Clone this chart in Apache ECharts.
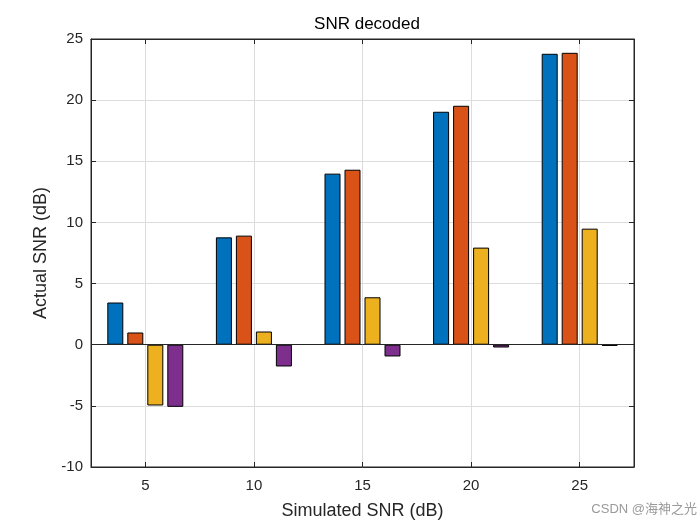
<!DOCTYPE html>
<html>
<head>
<meta charset="utf-8">
<script src="https://cdn.jsdelivr.net/npm/echarts@6/dist/echarts.min.js"></script>
<style>
html,body{margin:0;padding:0;background:#fff;}
#c{width:700px;height:525px;}
</style>
</head>
<body>
<div id="c"></div>
<script>
var categories = ['5', '10', '15', '20', '25'];
var series1 = [3.45, 8.78, 13.99, 19.05, 23.79];
var series2 = [1.0, 8.92, 14.31, 19.54, 23.87];
var series3 = [-4.97, 1.08, 3.88, 7.94, 9.49];
var series4 = [-5.08, -1.78, -0.96, -0.23, -0.10];
var yTicks = { min: -10, max: 25, interval: 5 };
var colors = ['#0072BD', '#D95319', '#EDB120', '#7E2F8E'];

var font = 'Liberation Sans, Arial, Helvetica, sans-serif';
var chart = echarts.init(document.getElementById('c'));
function barSeries(data, color) {
  return {
    type: 'bar',
    data: data,
    barWidth: 16,
    barGap: '25%',
    itemStyle: { color: color, borderColor: '#000', borderWidth: 1 },
    emphasis: { disabled: true },
    animation: false
  };
}
chart.setOption({
  animation: false,
  title: {
    text: 'SNR decoded',
    left: 362, top: 11, textAlign: 'center',
    textStyle: { fontFamily: font, fontSize: 17, fontWeight: 'normal', color: '#000' }
  },
  grid: { left: 91, right: 66, top: 39, bottom: 58, containLabel: false,
          show: true, borderColor: '#262626', borderWidth: 1 },
  xAxis: [{
    type: 'category',
    data: categories,
    name: 'Simulated SNR (dB)',
    nameLocation: 'middle',
    nameGap: 35,
    nameTextStyle: { fontFamily: font, fontSize: 18, color: '#262626' },
    axisLine: { show: true, onZero: false, lineStyle: { color: '#262626', width: 1 } },
    axisTick: { show: true, inside: true, alignWithLabel: true, length: 5, lineStyle: { color: '#262626' } },
    axisLabel: { fontFamily: font, fontSize: 15, color: '#262626', margin: 11 },
    splitLine: { show: true, alignWithLabel: true, lineStyle: { color: '#dcdcdc', width: 1 } }
  }, {
    type: 'category',
    data: categories,
    position: 'top',
    axisLine: { show: true, onZero: false, lineStyle: { color: '#262626', width: 1 } },
    axisTick: { show: true, inside: true, alignWithLabel: true, length: 5, lineStyle: { color: '#262626' } },
    axisLabel: { show: false },
    splitLine: { show: false }
  }],
  yAxis: [{
    type: 'value',
    min: yTicks.min, max: yTicks.max, interval: yTicks.interval,
    name: 'Actual SNR (dB)',
    nameLocation: 'middle',
    nameGap: 40,
    nameTextStyle: { fontFamily: font, fontSize: 18, color: '#262626' },
    axisLine: { show: true, lineStyle: { color: '#262626', width: 1 } },
    axisTick: { show: true, inside: true, length: 5, lineStyle: { color: '#262626' } },
    axisLabel: { fontFamily: font, fontSize: 15, color: '#262626', margin: 8 },
    splitLine: { show: true, lineStyle: { color: '#dcdcdc', width: 1 } }
  }, {
    type: 'value',
    min: yTicks.min, max: yTicks.max, interval: yTicks.interval,
    position: 'right',
    axisLine: { show: true, lineStyle: { color: '#262626', width: 1 } },
    axisTick: { show: true, inside: true, length: 5, lineStyle: { color: '#262626' } },
    axisLabel: { show: false },
    splitLine: { show: false }
  }],
  graphic: [{
    type: 'text',
    right: 3, top: 503,
    style: { text: 'CSDN @海神之光', fill: '#9a9a9a', fontSize: 13,
             fontFamily: 'Liberation Sans, Noto Sans CJK SC, sans-serif' }
  }],
  series: [
    barSeries(series1, colors[0]),
    barSeries(series2, colors[1]),
    barSeries(series3, colors[2]),
    barSeries(series4, colors[3]),
    {
      type: 'line',
      data: [],
      markLine: {
        silent: true, symbol: 'none', label: { show: false },
        lineStyle: { color: '#262626', width: 1, type: 'solid' },
        data: [{ yAxis: 0 }]
      }
    }
  ]
});
</script>
</body>
</html>
